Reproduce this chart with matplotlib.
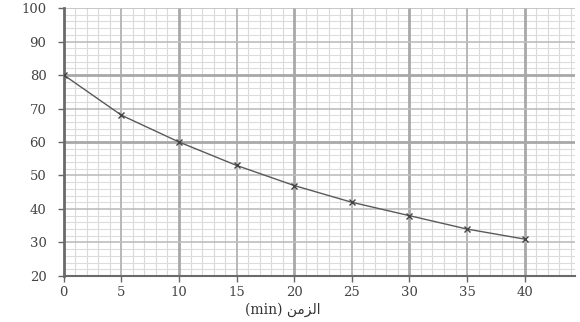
import numpy as np
import matplotlib.pyplot as plt

# data
time_min = [0, 5, 10, 15, 20, 25, 30, 35, 40]
values = [80, 68, 60, 53, 47, 42, 38, 34, 31]
x_ticks = [0, 5, 10, 15, 20, 25, 30, 35, 40]
y_ticks = [20, 30, 40, 50, 60, 70, 80, 90, 100]

# "(min) الزمن" written with Arabic presentation forms in visual order,
# since matplotlib does not shape Arabic text itself
x_label = "(min) \uFEE6\uFEE3\uFEB0\uFEDF\uFE8D"

plt.rcParams['font.family'] = ['DejaVu Serif', 'DejaVu Sans']

fig = plt.figure(figsize=(5.8, 3.22), dpi=100)
ax = fig.add_axes([0.110, 0.143, 0.882, 0.832])
ax.set_xlim(0, 44.4)
ax.set_ylim(20, 100)

# graph-paper grid
for xv in np.arange(1, 45, 1):
    if xv % 10 == 0:
        ax.axvline(xv, color='#a8a8a8', lw=2.0, zorder=1)
    elif xv % 5 == 0:
        ax.axvline(xv, color='#b8b8b8', lw=1.4, zorder=1)
    else:
        ax.axvline(xv, color='#dadada', lw=0.8, zorder=0)
for yv in np.arange(22, 101, 2):
    if yv in (60, 80):
        ax.axhline(yv, color='#a8a8a8', lw=2.0, zorder=1)
    elif yv % 10 == 0:
        ax.axhline(yv, color='#bdbdbd', lw=1.2, zorder=1)
    else:
        ax.axhline(yv, color='#dcdcdc', lw=0.8, zorder=0)

ax.plot(time_min, values, color='#5a5a5a', lw=1.0, zorder=3)
ax.plot(time_min, values, ls='none', marker='x', ms=4, mew=1.0,
        color='#444444', zorder=4)

for side in ('top', 'right'):
    ax.spines[side].set_visible(False)
ax.spines['left'].set_color('#6a6a6a')
ax.spines['left'].set_linewidth(2.0)
ax.spines['bottom'].set_color('#6a6a6a')
ax.spines['bottom'].set_linewidth(1.5)

ax.set_xticks(x_ticks)
ax.set_yticks(y_ticks)
ax.tick_params(axis='both', colors='#666666', labelcolor='#444444',
               labelsize=9.5, length=4.5, width=1)
ax.tick_params(axis='y', pad=8)
ax.tick_params(axis='x', pad=3)
ax.set_xlabel(x_label, fontsize=10, color='#333333', labelpad=1)
ax.xaxis.set_label_coords(19.0 / 44.4, -0.1)

fig.savefig('out.png', dpi=100, facecolor='white')
